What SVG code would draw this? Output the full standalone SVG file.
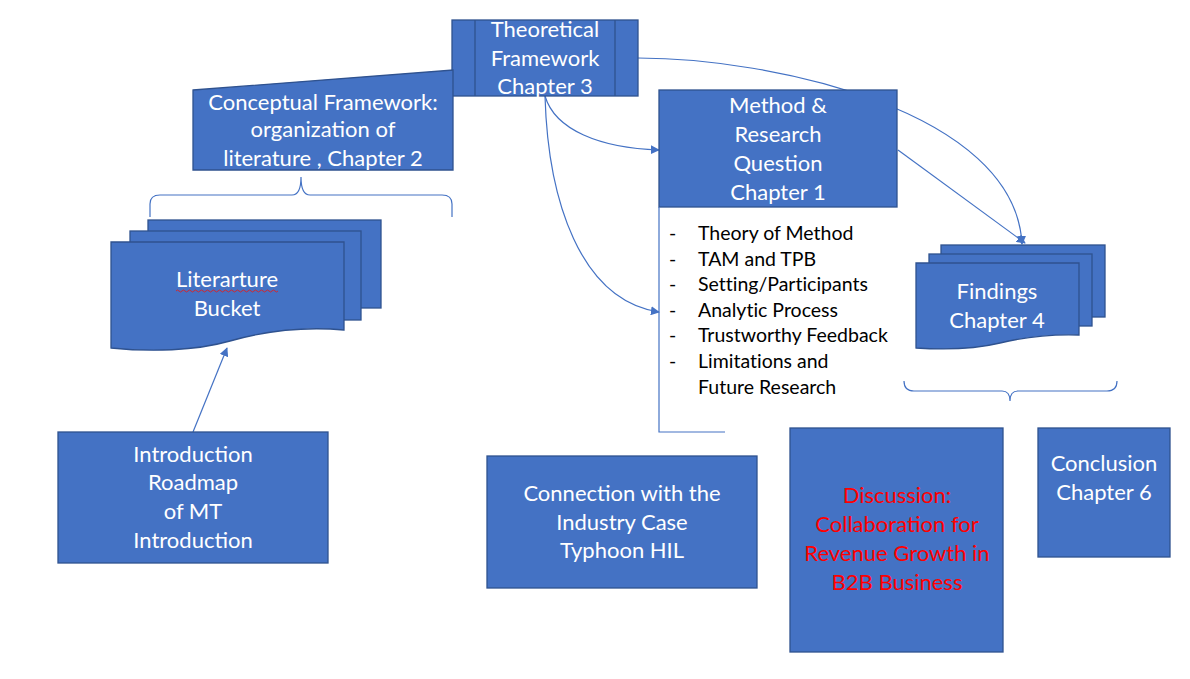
<svg xmlns="http://www.w3.org/2000/svg" width="1190" height="679" viewBox="0 0 1190 679">
<style>
.box{fill:#4472C4;stroke:#2F528F;stroke-width:1.3}
.t{font-family:Lato,"Liberation Sans",sans-serif;font-size:22px;fill:#ffffff;text-anchor:middle}
.red{fill:#FF0000}
.li{font-family:Lato,"Liberation Sans",sans-serif;font-size:19.5px;fill:#000000;font-variant-ligatures:none}
.c{fill:none;stroke:#4472C4;stroke-width:1.2}
</style>
<defs>
<marker id="ah" viewBox="0 0 10 10" refX="9" refY="5" markerWidth="9" markerHeight="9" markerUnits="userSpaceOnUse" orient="auto">
<path d="M0,0 L10,5 L0,10 Z" fill="#4472C4"/>
</marker>
</defs>
<rect width="1190" height="679" fill="#ffffff"/>

<g id="connectors">
<path class="c" d="M638,58 C770,58 1015,110 1022,244" marker-end="url(#ah)"/>
<path class="c" d="M898,150 L1025,243" marker-end="url(#ah)"/>
<path class="c" d="M545,96 C555,130 600,148 659,150" marker-end="url(#ah)"/>
<path class="c" d="M545,96 C548,200 580,300 659,312" marker-end="url(#ah)"/>
<path class="c" d="M193,432 L227,348" marker-end="url(#ah)"/>
<path class="c" d="M150,217 L150,204 Q150,195 160,195 L292,195 Q301,195 301,177 Q301,195 310,195 L442,195 Q452,195 452,204 L452,217"/>
<path class="c" d="M904,381 Q904,391 914,391 L1002,391 Q1010,391 1010,401 Q1010,391 1018,391 L1107,391 Q1117,391 1117,381"/>
</g>

<g id="theoretical">
<rect class="box" x="452" y="20" width="186" height="76"/>
<line x1="475" y1="20" x2="475" y2="96" stroke="#2F528F" stroke-width="1.3"/>
<line x1="615" y1="20" x2="615" y2="96" stroke="#2F528F" stroke-width="1.3"/>
<text class="t" x="545" y="37">Theoretical</text>
<text class="t" x="545" y="66">Framework</text>
<text class="t" x="545" y="94">Chapter 3</text>
</g>

<g id="conceptual">
<path class="box" d="M193,90 L453,70 L453,170 L193,170 Z"/>
<text class="t" x="323" y="110">Conceptual Framework:</text>
<text class="t" x="323" y="137">organization of</text>
<text class="t" x="323" y="166">literature , Chapter 2</text>
</g>

<g id="bucket">
<rect class="box" x="148" y="220" width="233" height="88"/>
<rect class="box" x="130" y="231" width="231" height="89"/>
<path class="box" d="M111,242 L344,242 L344,330 C300,326 262,332 230,341 C195,351 150,352 111,348 Z"/>
<text class="t" x="227" y="287">Literarture</text>
<path d="M176,291 q1.5,-2 3,0 t3,0 t3,0 t3,0 t3,0 t3,0 t3,0 t3,0 t3,0 t3,0 t3,0 t3,0 t3,0 t3,0 t3,0 t3,0 t3,0 t3,0 t3,0 t3,0 t3,0 t3,0 t3,0 t3,0 t3,0 t3,0 t3,0 t3,0 t3,0 t3,0 t3,0 t3,0 t3,0 t3,0" fill="none" stroke="#E02020" stroke-width="0.9"/>
<text class="t" x="227" y="316">Bucket</text>
</g>

<g id="introduction">
<rect class="box" x="58" y="432" width="270" height="131"/>
<text class="t" x="193" y="462">Introduction</text>
<text class="t" x="193" y="490">Roadmap</text>
<text class="t" x="193" y="519">of MT</text>
<text class="t" x="193" y="548">Introduction</text>
</g>

<g id="method">
<rect class="box" x="659" y="90" width="238" height="117"/>
<text class="t" x="778" y="113">Method &amp;</text>
<text class="t" x="778" y="142">Research</text>
<text class="t" x="778" y="171">Question</text>
<text class="t" x="778" y="200">Chapter 1</text>
</g>

<g id="method-list">
<path d="M659,207 L659,432 L725,432" fill="none" stroke="#4472C4" stroke-width="1.2"/>
<g class="li">
<text x="669" y="240">-</text><text x="698" y="240">Theory of Method</text>
<text x="669" y="266">-</text><text x="698" y="266">TAM and TPB</text>
<text x="669" y="291">-</text><text x="698" y="291">Setting/Participants</text>
<text x="669" y="317">-</text><text x="698" y="317">Analytic Process</text>
<text x="669" y="342">-</text><text x="698" y="342">Trustworthy Feedback</text>
<text x="669" y="368">-</text><text x="698" y="368">Limitations and</text>
<text x="698" y="394">Future Research</text>
</g>
</g>

<g id="findings">
<rect class="box" x="941" y="245" width="164" height="72"/>
<rect class="box" x="929" y="254" width="163" height="72"/>
<path class="box" d="M916,263 L1079,263 L1079,335 C1050,334 1025,337 1000,343 C975,349 945,350 916,348 Z"/>
<text class="t" x="997" y="299">Findings</text>
<text class="t" x="997" y="328">Chapter 4</text>
</g>

<g id="connection">
<rect class="box" x="487" y="456" width="270" height="132"/>
<text class="t" x="622" y="501">Connection with the</text>
<text class="t" x="622" y="530">Industry Case</text>
<text class="t" x="622" y="558">Typhoon HIL</text>
</g>

<g id="discussion">
<rect class="box" x="790" y="428" width="213" height="224"/>
<text class="t red" x="897" y="503">Discussion:</text>
<text class="t red" x="897" y="532">Collaboration for</text>
<text class="t red" x="897" y="561">Revenue Growth in</text>
<text class="t red" x="897" y="590">B2B Business</text>
</g>

<g id="conclusion">
<rect class="box" x="1038" y="428" width="132" height="129"/>
<text class="t" x="1104" y="471">Conclusion</text>
<text class="t" x="1104" y="500">Chapter 6</text>
</g>
</svg>
